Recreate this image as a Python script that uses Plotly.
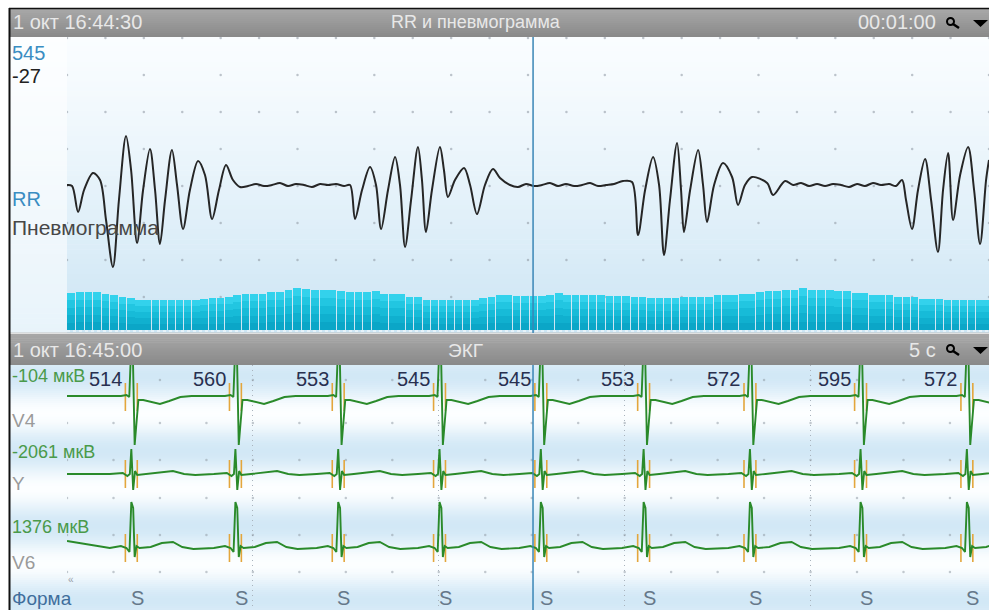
import math
import plotly.graph_objects as go

W, H = 989, 610
FONT = "Liberation Sans, Arial, sans-serif"

# ---------------- data ----------------
# Pneumogram (time in s within the 1-minute window, amplitude in arbitrary units)
PNEUMO_T = [
    0.00, 0.33, 0.72, 1.11, 1.69, 2.15, 2.54, 2.99, 3.38, 3.84,
    4.17, 4.56, 4.95, 5.40, 5.73, 6.05, 6.38, 6.83, 7.16, 7.55,
    8.00, 8.53, 8.98, 9.44, 9.89, 10.35, 10.80, 11.26, 11.78, 12.30,
    12.82, 13.34, 13.86, 14.38, 14.90, 15.42, 15.94, 16.47, 16.99, 17.51,
    18.03, 18.42, 18.74, 19.20, 19.72, 20.11, 20.44, 20.89, 21.35, 21.67,
    22.00, 22.39, 22.84, 23.10, 23.36, 23.75, 24.27, 24.53, 24.79, 25.25,
    25.84, 26.23, 26.68, 27.20, 27.72, 28.18, 28.83, 29.35, 29.87, 30.39,
    30.91, 31.43, 31.95, 32.47, 33.00, 33.52, 34.04, 34.56, 35.08, 35.60,
    36.18, 36.77, 37.16, 37.62, 38.14, 38.53, 38.85, 39.24, 39.70, 39.96,
    40.15, 40.55, 41.07, 41.39, 41.65, 42.11, 42.69, 43.28, 43.67, 44.12,
    44.58, 45.56, 45.95, 46.73, 47.25, 47.77, 48.29, 48.81, 49.33, 49.85,
    50.37, 50.89, 51.41, 51.93, 52.45, 52.97, 53.50, 53.95, 54.34, 54.60,
    54.99, 55.38, 55.84, 56.23, 56.68, 57.01, 57.34, 57.66, 58.12, 58.64,
    59.03, 59.42, 59.81, 60.00,
]
PNEUMO_V = [
    0, -1, -27, -5, 12, 5, -35, -82, -15, 49,
    15, -58, -5, 36, -5, -59, -15, 35, 0, -44,
    -5, 24, 10, -34, -5, 20, 5, -2, -1, 1,
    -1, 0, 2, -1, 1, 0, -2, 1, 0, 1,
    -1, 0, -34, -5, 18, 0, -44, -5, 28, 0,
    -62, -15, 38, 5, -47, -5, 38, 15, -12, 5,
    17, 0, -29, 0, 16, 7, 0, -2, 1, -1,
    0, 2, -1, 1, -1, 0, 2, -1, 0, 1,
    4, 3, -50, -5, 28, 0, -70, -15, 42, -5,
    -47, -5, 35, 0, -37, 0, 22, 8, -20, 0,
    8, 2, -10, 4, 0, 2, -1, 1, -1, 1,
    0, -2, 1, -1, 2, 0, 1, -1, 5, -15,
    -44, -5, 26, -15, -67, -5, 32, -35, 10, 38,
    -5, -59, 5, 25,
]
# RR intervals (ms) for every beat of the 1-minute window
RR_BARS_MS = [
    557, 561, 561, 561, 553, 549, 541, 537, 529, 529,
    529, 529, 529, 529, 529, 529, 533, 537, 537, 541,
    549, 553, 553, 553, 561, 561, 569, 577, 573, 569,
    569, 569, 565, 561, 561, 561, 565, 553, 553, 553,
    541, 541, 529, 529, 529, 529, 529, 529, 529, 537,
    541, 549, 549, 545, 545, 545, 545, 549, 557, 549,
    549, 549, 549, 549, 545, 545, 545, 541, 541, 537,
    537, 537, 537, 541, 541, 541, 541, 549, 549, 549,
    553, 553, 561, 565, 565, 569, 569, 577, 569, 569,
    569, 565, 565, 557, 557, 549, 549, 549, 541, 541,
    541, 533, 533, 533, 529, 529, 529, 529, 529, 529,
]
RR_AXIS_MIN = 409
RR_AXIS_MAX = 729
# ECG 5-s window
ECG_RR_MS = [514, 560, 553, 545, 545, 553, 572, 595, 572]
BEAT_FORMS = ["S", "S", "S", "S", "S", "S", "S", "S", "S"]
ECG_FIRST_R_S = 0.35
TOP_CURSOR_S = 30.33
ECG_CURSOR_S = 2.507
TOP_WINDOW_S = 60.0
ECG_WINDOW_S = 4.96

# Beat templates: time from R peak (s) and amplitude per lead
V4_DT = [-0.12, -0.06, -0.03, -0.015, -0.006, 0.004, 0.014, 0.024, 0.034, 0.06, 0.10, 0.15, 0.20, 0.26, 0.32]
V4_AMP = [1, 1, 2, 0, 45, 45, -48, -20, -3, -3, -5, -7, -4, 0, 1]
Y_DT = [-0.12, -0.05, -0.025, -0.012, -0.004, 0.006, 0.016, 0.028, 0.08, 0.16, 0.22, 0.28, 0.34]
Y_AMP = [0, 1, -2, 0, 25, -16, 3, -1, 0, 2, 3, 0, -1]
V6_DT = [-0.12, -0.06, -0.03, -0.014, -0.004, 0.006, 0.014, 0.024, 0.04, 0.10, 0.16, 0.22, 0.27, 0.33]
V6_AMP = [0, 2, 0, -4, 46, 40, -9, 2, 0, 1, 5, 6, 1, -1]
LEAD_START_AMP = [1, 0, 7]
LEAD_NAMES = ["V4", "Y", "V6"]
LEAD_SCALES = ["-104 мкВ", "-2061 мкВ", "1376 мкВ"]

# ---------------- layout helpers ----------------
def px(x):
    return x / W


def py(y):
    return 1 - y / H


def hexrgb(c):
    c = c.lstrip("#")
    return [int(c[i:i + 2], 16) for i in (0, 2, 4)]


def mix(c0, c1, f):
    a, b = hexrgb(c0), hexrgb(c1)
    return "rgb(%d,%d,%d)" % tuple(round(a[i] + (b[i] - a[i]) * f) for i in range(3))


shapes = []


def vgrad(x0, x1, y0, y1, colfun, n):
    step = (y1 - y0) / n
    for i in range(n):
        ya = y0 + i * step
        yb = ya + step + 0.6
        shapes.append(dict(type="rect", xref="paper", yref="paper",
                           x0=px(x0), x1=px(x1), y0=py(min(yb, y1)), y1=py(ya),
                           fillcolor=colfun((i + 0.5) / n, ya + step / 2), line_width=0, layer="below"))


# top panel background
vgrad(10, W, 37, 333, lambda f, y: mix("#fafdff", "#cce5f4", f ** 1.2), 60)
shapes.append(dict(type="rect", xref="paper", yref="paper", x0=px(10), x1=px(67), y0=py(333), y1=py(37),
                   fillcolor="rgba(255,255,255,0.55)", line_width=0, layer="below"))
# ECG panel background bands
vgrad(10, W, 365, H, lambda f, y: mix("#fcfeff", "#d2e8f6", 0.5 + 0.5 * math.cos(2 * math.pi * (y - 376) / 75)), 122)
# headers
vgrad(10, W, 9, 37, lambda f, y: mix("#a8a8a8", "#898989", f), 14)
vgrad(10, W, 334, 365, lambda f, y: mix("#a8a8a8", "#898989", f), 15)
shapes.append(dict(type="line", xref="paper", yref="paper", x0=px(10), x1=1, y0=py(333), y1=py(333),
                   line=dict(color="#c4c4c4", width=1)))
shapes.append(dict(type="line", xref="paper", yref="paper", x0=px(67), x1=1, y0=py(331), y1=py(331),
                   line=dict(color="white", width=1, dash="dot")))
# outer border
shapes.append(dict(type="line", xref="paper", yref="paper", x0=px(9), x1=1, y0=py(8.5), y1=py(8.5),
                   line=dict(color="#111", width=1.5)))
shapes.append(dict(type="line", xref="paper", yref="paper", x0=px(9.5), x1=px(9.5), y0=0, y1=py(8),
                   line=dict(color="#111", width=2)))
# cursor
shapes.append(dict(type="line", xref="x", yref="paper", x0=TOP_CURSOR_S, x1=TOP_CURSOR_S, y0=py(333), y1=py(37),
                   line=dict(color="#3a86b6", width=1.5)))
shapes.append(dict(type="line", xref="x2", yref="paper", x0=ECG_CURSOR_S, x1=ECG_CURSOR_S, y0=0, y1=py(365),
                   line=dict(color="#3a86b6", width=1.5)))
# header icons (magnifier + dropdown arrow)
for yc in (23, 350):
    shapes.append(dict(type="circle", xref="paper", yref="paper", x0=px(947), x1=px(954), y0=py(yc + 2), y1=py(yc - 5),
                       line=dict(color="black", width=2)))
    shapes.append(dict(type="line", xref="paper", yref="paper", x0=px(953), x1=px(959), y0=py(yc + 1), y1=py(yc + 5),
                       line=dict(color="black", width=2.5)))
    shapes.append(dict(type="path", xref="paper", yref="paper",
                       path="M %f,%f L %f,%f L %f,%f Z" % (px(973), py(yc - 3), px(988), py(yc - 3), px(980.5), py(yc + 4)),
                       fillcolor="black", line_width=0))

# ---------------- traces ----------------
fig = go.Figure()

# RR bars positioned by cumulative beat time, shaded in layers (light top -> darker bottom)
centers, widths = [], []
acc = 0.0
for rr in RR_BARS_MS:
    centers.append((acc + rr / 2) / 1000)
    widths.append(rr / 1000 * 0.9)
    acc += rr
layer_cols = ["#33d2ec", "#22c6e1", "#17bbd8", "#10b0cf", "#0ba6c7"]
for k, col in enumerate(layer_cols):
    frac = 1 - k * 0.2
    fig.add_trace(go.Bar(x=centers, y=[(rr - RR_AXIS_MIN) * frac for rr in RR_BARS_MS], base=RR_AXIS_MIN,
                         width=widths, xaxis="x", yaxis="y2",
                         marker=dict(color=col, line=dict(width=0)), hoverinfo="skip"))

# grid dots top panel
dx, dy = [], []
for r, yv in enumerate([147, 110, 73, 36, -1, -38, -75, -112]):
    step = 2.5 if r % 2 == 0 else 5.0
    k = 0
    while k * step <= TOP_WINDOW_S:
        dx.append(k * step)
        dy.append(yv)
        k += 1
fig.add_trace(go.Scatter(x=dx, y=dy, mode="markers", xaxis="x", yaxis="y",
                         marker=dict(color="rgba(140,150,160,0.55)", size=2.5), hoverinfo="skip"))

fig.add_trace(go.Scatter(x=PNEUMO_T, y=PNEUMO_V, mode="lines", xaxis="x", yaxis="y",
                         line=dict(color="#262626", width=2, shape="spline", smoothing=0.9), hoverinfo="skip"))

# ECG grid dots
ex, ey = [], []
for yv in [610 - 380, 610 - 423, 610 - 460, 610 - 498, 610 - 535, 610 - 572]:
    k = 0
    while k * 0.25 <= ECG_WINDOW_S:
        ex.append(k * 0.25)
        ey.append(yv)
        k += 1
fig.add_trace(go.Scatter(x=ex, y=ey, mode="markers", xaxis="x2", yaxis="y3",
                         marker=dict(color="rgba(140,150,160,0.5)", size=2.5), hoverinfo="skip"))

# beat times
beats = [ECG_FIRST_R_S]
for rr in ECG_RR_MS[1:]:
    beats.append(beats[-1] + rr / 1000)

LEAD_BASE = [610 - 397, 610 - 474, 610 - 548]
templates = [(V4_DT, V4_AMP), (Y_DT, Y_AMP), (V6_DT, V6_AMP)]

# orange QRS markers
ox, oy = [], []
for base in LEAD_BASE:
    for tb in beats:
        for off in (-0.036, 0.028):
            ox += [tb + off, tb + off, None]
            oy += [base - 14, base + 14, None]
fig.add_trace(go.Scatter(x=ox, y=oy, mode="lines", xaxis="x2", yaxis="y3",
                         line=dict(color="#e3a63c", width=1.6), hoverinfo="skip"))

for (dts, amps), base, a0 in zip(templates, LEAD_BASE, LEAD_START_AMP):
    xs, ys = [0.0], [base + a0]
    for tb in beats:
        for d, a in zip(dts, amps):
            t = tb + d
            if t <= xs[-1]:
                continue
            xs.append(t)
            ys.append(base + a)
    fig.add_trace(go.Scatter(x=xs, y=ys, mode="lines", xaxis="x2", yaxis="y3",
                             line=dict(color="#2a8a2a", width=1.9), hoverinfo="skip"))

# ---------------- annotations ----------------
ann = []


def label(x, y, text, color, size=20, anchor="left"):
    ann.append(dict(xref="paper", yref="paper", x=px(x), y=py(y), text=text, showarrow=False,
                    xanchor=anchor, yanchor="middle", font=dict(family=FONT, size=size, color=color)))


HDR = "#e8e8e8"
label(11, 22, "1 окт 16:44:30", HDR, size=20)
label(476, 22, "RR и пневмограмма", HDR, size=18, anchor="center")
label(938, 22, "00:01:00", HDR, size=20, anchor="right")
label(11, 350, "1 окт 16:45:00", HDR, size=20)
label(465, 350, "ЭКГ", HDR, size=19, anchor="center")
label(938, 350, "5 с", HDR, size=20, anchor="right")

label(10, 53, "545", "#3a8dc2")
label(10, 76, "-27", "#222222")
label(10, 199, "RR", "#3a8dc2")
label(10, 227, "Пневмограмма", "#474747", size=21)

for name, scale, yv, yn in zip(LEAD_NAMES, LEAD_SCALES, [376, 452, 527], [420, 483, 562]):
    label(10, yv, scale, "#4a9a4a", size=18)
    label(10, yn, name, "#9a9a9a", size=19)
label(10, 598, "Форма", "#3f6e9c", size=19)
label(66, 579, "«", "#9aa0a8", size=10)

for tb, rr, form in zip(beats, ECG_RR_MS, BEAT_FORMS):
    ann.append(dict(xref="x2", yref="paper", x=tb - 0.045, y=py(379), text=str(rr), showarrow=False,
                    xanchor="right", yanchor="middle", font=dict(family=FONT, size=20, color="#283050")))
    ann.append(dict(xref="x2", yref="paper", x=tb + 0.027, y=py(598), text=form, showarrow=False,
                    xanchor="center", yanchor="middle", font=dict(family=FONT, size=20, color="#66788a")))

hidden = dict(showgrid=False, zeroline=False, showticklabels=False, showline=False, ticks="")
fig.update_layout(
    width=W, height=H, margin=dict(l=0, r=0, t=0, b=0),
    paper_bgcolor="white", plot_bgcolor="rgba(0,0,0,0)",
    showlegend=False, bargap=0, barmode="overlay",
    shapes=shapes, annotations=ann,
    xaxis=dict(domain=[px(67), 1], range=[0, TOP_WINDOW_S], anchor="y", **hidden),
    yaxis=dict(domain=[py(333), py(37)], range=[-148, 148], anchor="x", **hidden),
    yaxis2=dict(domain=[py(330), py(250)], range=[RR_AXIS_MIN, RR_AXIS_MAX], anchor="x", **hidden),
    xaxis2=dict(domain=[px(67), 1], range=[0, ECG_WINDOW_S], anchor="y3", showgrid=True, dtick=1, tick0=0,
                gridcolor="#a9b3bd", griddash="1px,4px", gridwidth=1, zeroline=False,
                showticklabels=False, showline=False, ticks=""),
    yaxis3=dict(domain=[0, py(365)], range=[0, 245], anchor="x2", **hidden),
)

fig.write_html("out.html")
